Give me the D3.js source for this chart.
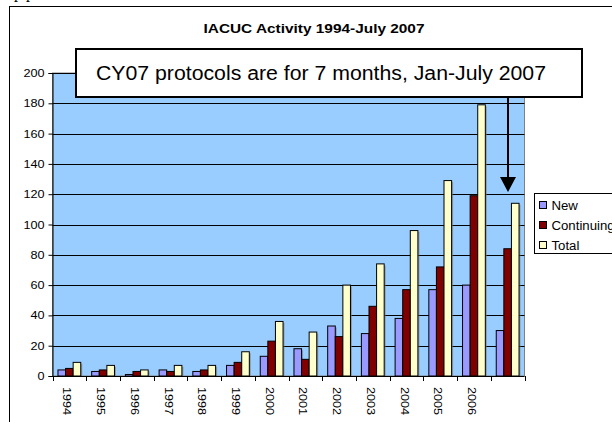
<!DOCTYPE html>
<html>
<head>
<meta charset="utf-8">
<script src="https://cdn.jsdelivr.net/npm/d3@7"></script>
<style>
  body { margin: 0; background: #fff; }
  svg { display: block; font-family: Arial, "Liberation Sans", sans-serif; }
</style>
</head>
<body>
<div id="chart"></div>
<script>
// chart data
const years = ["1994", "1995", "1996", "1997", "1998", "1999", "2000", "2001", "2002", "2003", "2004", "2005", "2006", "2007"];
const yearLabels = ["1994", "1995", "1996", "1997", "1998", "1999", "2000", "2001", "2002", "2003", "2004", "2005", "2006", ""];
const newProtocols = [4, 3, 1, 4, 3, 7, 13, 18, 33, 28, 38, 57, 60, 30];
const continuing = [5, 4, 3, 3, 4, 9, 23, 11, 26, 46, 57, 72, 119, 84];
const total = [9, 7, 4, 7, 7, 16, 36, 29, 60, 74, 96, 129, 179, 114];
const seriesNames = ["New", "Continuing", "Total"];
const seriesColors = ["#9999ff", "#800000", "#ffffcc"];
const yTicks = [0, 20, 40, 60, 80, 100, 120, 140, 160, 180, 200];

const W = 612, H = 422;
const plot = { left: 52.5, right: 524.5, top: 73, bottom: 376 };

// the source text is a bit wider than Arial, stretch it
function stretch(sel, k) {
  sel.each(function() {
    const len = this.getComputedTextLength();
    if (len > 0) {
      d3.select(this)
        .attr("textLength", len * k)
        .attr("lengthAdjust", "spacingAndGlyphs");
    }
  });
}

const svg = d3.select("#chart").append("svg")
  .attr("width", W)
  .attr("height", H);

// stray text from the page above
svg.append("text")
  .attr("x", 14).attr("y", -2)
  .attr("font-family", "'Liberation Serif', serif")
  .attr("font-size", 16)
  .text("p    p");

// outer frame
svg.append("rect")
  .attr("x", 9.5).attr("y", 6.5)
  .attr("width", W).attr("height", H)
  .attr("fill", "none")
  .attr("stroke", "#000");

// title
svg.append("text")
  .attr("x", 314).attr("y", 33)
  .attr("text-anchor", "middle")
  .attr("font-size", 13)
  .attr("font-weight", "bold")
  .attr("textLength", 221)
  .attr("lengthAdjust", "spacingAndGlyphs")
  .text("IACUC Activity 1994-July 2007");

const x0 = d3.scaleBand().domain(years).range([plot.left, plot.right]).padding(0);
const x1 = d3.scaleBand().domain(seriesNames).range([0, x0.bandwidth()]).paddingInner(0).paddingOuter(0.72);
const y = d3.scaleLinear().domain([0, 200]).range([plot.bottom, plot.top]);

// plot background
svg.append("rect")
  .attr("x", plot.left).attr("y", plot.top)
  .attr("width", plot.right - plot.left)
  .attr("height", plot.bottom - plot.top)
  .attr("fill", "#99ccff")
  .attr("stroke", "#808080");

// gridlines
svg.append("g")
  .selectAll("line")
  .data(yTicks.slice(1))
  .enter().append("line")
  .attr("x1", plot.left).attr("x2", plot.right)
  .attr("y1", d => Math.round(y(d)) + 0.5)
  .attr("y2", d => Math.round(y(d)) + 0.5)
  .attr("stroke", "#000");

// bars
const seriesData = [newProtocols, continuing, total];
const groups = svg.append("g").selectAll("g")
  .data(years)
  .enter().append("g")
  .attr("transform", d => "translate(" + x0(d) + ",0)");

groups.each(function(yr, i) {
  const g = d3.select(this);
  const vals = seriesNames.map((s, k) => ({ s: s, v: seriesData[k][i], c: seriesColors[k] }));
  // shadows
  g.selectAll("rect.shadow")
    .data(vals)
    .enter().append("rect")
    .attr("class", "shadow")
    .attr("x", d => x1(d.s) + 1.5)
    .attr("y", d => y(d.v) + 1.5)
    .attr("width", x1.bandwidth())
    .attr("height", d => y(0) - y(d.v) - 1.5)
    .attr("fill", "#7a7a7a")
    .attr("opacity", 0.6);
  g.selectAll("rect.bar")
    .data(vals)
    .enter().append("rect")
    .attr("class", "bar")
    .attr("x", d => x1(d.s))
    .attr("y", d => y(d.v))
    .attr("width", x1.bandwidth())
    .attr("height", d => y(0) - y(d.v))
    .attr("fill", d => d.c)
    .attr("stroke", "#000")
    .attr("stroke-width", 1);
});

// y axis
const yAxis = d3.axisLeft(y).tickValues(yTicks).tickSize(4).tickPadding(4);
const gy = svg.append("g")
  .attr("transform", "translate(" + plot.left + ",0)")
  .call(yAxis);
gy.select(".domain").attr("stroke", "#000");
gy.selectAll("text").attr("font-size", 11).attr("font-family", "Arial, 'Liberation Sans', sans-serif").attr("fill", "#000");
stretch(gy.selectAll("text"), 1.15);

// x axis
const xAxis = d3.axisBottom(x0).tickSize(0).tickFormat((d, i) => yearLabels[i]);
const gx = svg.append("g")
  .attr("transform", "translate(0," + plot.bottom + ")")
  .call(xAxis);
gx.select(".domain").attr("stroke", "#000").attr("d", "M" + plot.left + ",0.5H" + plot.right);
gx.selectAll("text")
  .attr("font-size", 11)
  .attr("font-family", "Arial, 'Liberation Sans', sans-serif")
  .attr("fill", "#000")
  .attr("text-anchor", "start")
  .attr("dy", "0.35em")
  .attr("y", 0)
  .attr("transform", "translate(-2,11) rotate(90)");
stretch(gx.selectAll("text"), 1.15);
// tick marks at group boundaries
svg.append("g")
  .selectAll("line")
  .data(years.concat(["end"]))
  .enter().append("line")
  .attr("x1", (d, i) => Math.round(plot.left + i * x0.step()) + 0.5)
  .attr("x2", (d, i) => Math.round(plot.left + i * x0.step()) + 0.5)
  .attr("y1", plot.bottom)
  .attr("y2", plot.bottom + 5)
  .attr("stroke", "#000");

// legend
const legend = svg.append("g").attr("transform", "translate(534.5,193.5)");
legend.append("rect")
  .attr("width", 100).attr("height", 60)
  .attr("fill", "#fff")
  .attr("stroke", "#000");
const items = legend.selectAll("g.item")
  .data(seriesNames)
  .enter().append("g")
  .attr("class", "item")
  .attr("transform", (d, i) => "translate(5," + (12 + i * 20) + ")");
items.append("rect")
  .attr("x", 0).attr("y", -4)
  .attr("width", 7).attr("height", 7)
  .attr("fill", (d, i) => seriesColors[i])
  .attr("stroke", "#000");
const legendText = items.append("text")
  .attr("x", 12).attr("y", 0)
  .attr("dy", "0.35em")
  .attr("font-size", 12)
  .text(d => d);
stretch(legendText, 1.1);

// callout box
svg.append("rect")
  .attr("x", 76).attr("y", 49)
  .attr("width", 506).attr("height", 48)
  .attr("fill", "#fff")
  .attr("stroke", "#000")
  .attr("stroke-width", 2);
svg.append("text")
  .attr("x", 96).attr("y", 80)
  .attr("font-size", 20)
  .attr("textLength", 450)
  .attr("lengthAdjust", "spacingAndGlyphs")
  .text("CY07 protocols are for 7 months, Jan-July 2007");

// arrow
svg.append("line")
  .attr("x1", 508).attr("x2", 508)
  .attr("y1", 98).attr("y2", 180)
  .attr("stroke", "#000")
  .attr("stroke-width", 2);
svg.append("path")
  .attr("d", "M500,177L516,177L508,192Z")
  .attr("fill", "#000");
</script>
</body>
</html>
